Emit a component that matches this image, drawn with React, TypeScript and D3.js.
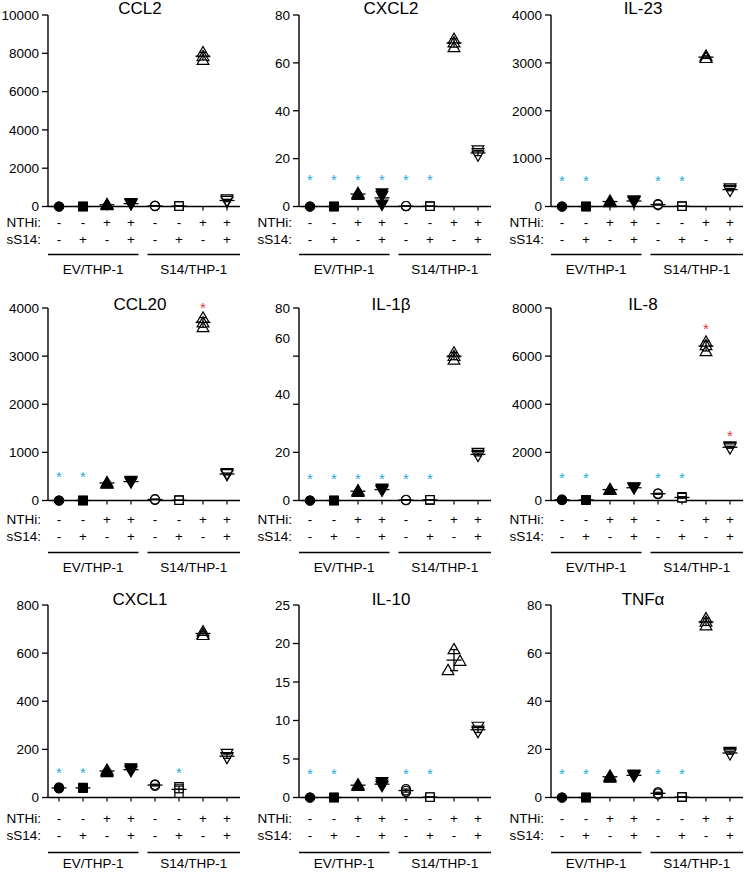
import React from "react";
import * as d3 from "d3";

const titles = ["CCL2", "CXCL2", "IL-23", "CCL20", "IL-1β", "IL-8", "CXCL1", "IL-10", "TNFα"];
const yMax = [10000, 80, 4000, 4000, 80, 8000, 800, 25, 80];
const yStep = [2000, 20, 1000, 1000, 20, 2000, 200, 5, 20];
const nthiRow = ["-", "-", "+", "+", "-", "-", "+", "+"];
const ss14Row = ["-", "+", "-", "+", "-", "+", "-", "+"];
const cellLines = ["EV/THP-1", "S14/THP-1"];

// three replicates per group: 4 EV/THP-1 groups then 4 S14/THP-1 groups
const ccl2 = [[0, 0, 0], [0, 0, 0], [60, 120, 90], [180, 120, 150], [40, 20, 30], [25, 15, 20], [8050, 7850, 7650], [380, 260, 300]];
const cxcl2 = [[0, 0, 0], [0, 0, 0], [5.2, 5.6, 4.8], [5.5, 4.5, 0.8], [0.2, 0.1, 0.2], [0.1, 0.1, 0.1], [70, 68.5, 66.5], [23.5, 22.3, 21.3]];
const il23 = [[0, 0, 0], [0, 0, 0], [120, 90, 100], [130, 100, 115], [50, 30, 40], [5, 5, 5], [3150, 3110, 3100], [380, 350, 330]];
const ccl20 = [[0, 0, 0], [0, 0, 0], [380, 350, 360], [410, 380, 390], [30, 15, 20], [5, 5, 5], [3800, 3700, 3600], [570, 530, 550]];
const il1b = [[0, 0, 0], [0, 0, 0], [4.2, 3.5, 3.9], [5, 4.2, 4.4], [0.3, 0.1, 0.2], [0.3, 0.2, 0.3], [61.5, 60, 58.5], [19.8, 19, 18.6]];
const il8 = [[40, 20, 30], [30, 20, 20], [470, 440, 450], [550, 510, 530], [300, 260, 280], [160, 100, 120], [6600, 6450, 6200], [2250, 2220, 2170]];
const cxcl1 = [[42, 38, 40], [40, 38, 42], [115, 105, 110], [122, 110, 115], [55, 48, 52], [45, 38, 18], [690, 680, 675], [182, 168, 165]];
const il10 = [[0, 0, 0], [0, 0, 0], [1.7, 1.5, 1.6], [2.0, 1.5, 1.7], [1.1, 0.7, 0.9], [0.05, 0.05, 0.05], [19.26, 17.74, 16.53], [9.2, 8.7, 8.5]];
const tnfa = [[0, 0, 0], [0, 0, 0], [9, 8.2, 8.6], [9.6, 8.9, 9.1], [2.2, 1.3, 1.7], [0.2, 0.1, 0.2], [74.5, 73, 71.5], [19, 18.5, 18]];
const replicates = [ccl2, cxcl2, il23, ccl20, il1b, il8, cxcl1, il10, tnfa];

// significance asterisks
const cyanStarGroups = [[], [0, 1, 2, 3, 4, 5], [0, 1, 4, 5], [0, 1], [0, 1, 2, 3, 4, 5], [0, 1, 4, 5], [0, 1, 5], [0, 1, 4, 5], [0, 1, 4, 5]];
const cyanStarLevel = [0, 12.7, 620, 570, 10.8, 1110, 119, 3.6, 11.5];
const redStarGroups = [[], [], [], [6], [], [6, 7], [], [], []];
const redStarLevel = [[], [], [], [4080], [], [7300, 2850], [], [], []];

// layout
const W = 745;
const H = 873;
const colAxisX = [48, 299, 551];
const rowTop = [15, 308, 605];
const rowZero = [206.5, 500.5, 797.5];
const rowTitleY = [13.5, 310, 605];
const rowNthiY = [16, 19, 21];
const rowSs14Y = [33, 36, 38];
const rowLineY = [48, 52, 55];
const rowLabelY = [63, 67, 66];
const FONT = "'Liberation Sans', Arial, Helvetica, sans-serif";
const CYAN = "#29a9e0";
const RED = "#e8343f";
// IL-1β: tick labels 60 and 40 sit above their ticks in the original
const labelNudge: Record<number, Record<number, number>> = { 4: { 60: -18, 40: -10 } };

const symbolTypes = [d3.symbolCircle, d3.symbolSquare, d3.symbolTriangle, d3.symbolTriangle];
const symbolSizes = [64, 68, 60, 60];

function Panel({ i }: { i: number }) {
  const col = i % 3;
  const row = Math.floor(i / 3);
  const ax = colAxisX[col];
  const y0 = rowZero[row];
  const x = d3.scalePoint<number>().domain(d3.range(8)).range([ax + 11, ax + 179]);
  const y = d3.scaleLinear().domain([0, yMax[i]]).range([y0, rowTop[row]]);
  const ticks = d3.range(0, yMax[i] + yStep[i] / 2, yStep[i]);
  const data = replicates[i];
  const fs = 13.5;
  const xEnd = ax + 192;

  return (
    <g fontFamily={FONT}>
      <text x={ax + 92} y={rowTitleY[row]} fontSize={17} textAnchor="middle">{titles[i]}</text>
      {/* axes */}
      <line x1={ax} x2={ax} y1={y0} y2={rowTop[row]} stroke="#000" strokeWidth={1.4} />
      <line x1={ax} x2={xEnd} y1={y0} y2={y0} stroke="#000" strokeWidth={1.4} />
      {ticks.map((t) => (
        <g key={t}>
          <line x1={ax - 6} x2={ax} y1={y(t)} y2={y(t)} stroke="#000" strokeWidth={1.3} />
          <text x={ax - 9} y={y(t) + 4.8 + ((labelNudge[i] || {})[t] || 0)} fontSize={fs} textAnchor="end">{t}</text>
        </g>
      ))}
      {d3.range(8).map((g) => (
        <line key={g} x1={x(g)} x2={x(g)} y1={y0} y2={y0 + 4} stroke="#000" strokeWidth={1.2} />
      ))}
      {/* markers */}
      {data.map((vals, g) => {
        const open = g >= 4;
        const k = g % 4;
        const path = d3.symbol().type(symbolTypes[k]).size(symbolSizes[k])() as string;
        const spread = y(d3.min(vals) as number) - y(d3.max(vals) as number);
        const order = vals.map((v, j) => j).sort((a, b) => vals[b] - vals[a]);
        const dodge = [0, 6, -6];
        return vals.map((v, j) => {
          const dx = spread > 18 ? dodge[order.indexOf(j)] : 0;
          const rot = k === 3 ? " rotate(180)" : "";
          const oy = k === 2 ? 1 : k === 3 ? -1 : 0;
          return (
            <path
              key={`${g}-${j}`}
              d={path}
              transform={`translate(${(x(g) as number) + dx},${y(v) + oy})${rot}`}
              fill={open ? "#fff" : "#000"}
              stroke="#000"
              strokeWidth={1.2}
            />
          );
        });
      })}
      {/* mean ± SD */}
      {data.map((vals, g) => {
        const m = d3.mean(vals) as number;
        const s = d3.deviation(vals) || 0;
        const cx = x(g) as number;
        return (
          <g key={g} stroke="#000" strokeWidth={1.3}>
            <line x1={cx - 7.5} x2={cx + 7.5} y1={y(m)} y2={y(m)} />
            <line x1={cx} x2={cx} y1={y(m - s)} y2={y(m + s)} />
            <line x1={cx - 4} x2={cx + 4} y1={y(m - s)} y2={y(m - s)} />
            <line x1={cx - 4} x2={cx + 4} y1={y(m + s)} y2={y(m + s)} />
          </g>
        );
      })}
      {/* asterisks */}
      {cyanStarGroups[i].map((g) => (
        <text key={`c${g}`} x={x(g)} y={y(cyanStarLevel[i]) + 9} fontSize={15} fill={CYAN} textAnchor="middle">*</text>
      ))}
      {redStarGroups[i].map((g, j) => (
        <text key={`r${g}`} x={x(g)} y={y(redStarLevel[i][j]) + 9} fontSize={15} fill={RED} textAnchor="middle">*</text>
      ))}
      {/* treatment table */}
      <text x={ax - 7} y={y0 + rowNthiY[row] + 4.8} fontSize={fs} textAnchor="end">NTHi:</text>
      <text x={ax - 7} y={y0 + rowSs14Y[row] + 4.8} fontSize={fs} textAnchor="end">sS14:</text>
      {d3.range(8).map((g) => (
        <g key={g}>
          <text x={x(g)} y={y0 + rowNthiY[row] + 4.8} fontSize={fs} textAnchor="middle">{nthiRow[g]}</text>
          <text x={x(g)} y={y0 + rowSs14Y[row] + 4.8} fontSize={fs} textAnchor="middle">{ss14Row[g]}</text>
        </g>
      ))}
      {cellLines.map((name, c) => {
        const x1 = c === 0 ? ax : (x(4) as number) - 7.5;
        const x2 = c === 0 ? (x(3) as number) + 7.5 : xEnd;
        return (
          <g key={name}>
            <line x1={x1} x2={x2} y1={y0 + rowLineY[row]} y2={y0 + rowLineY[row]} stroke="#000" strokeWidth={1.3} />
            <text x={(x1 + x2) / 2} y={y0 + rowLabelY[row] + 4.8} fontSize={fs} textAnchor="middle">{name}</text>
          </g>
        );
      })}
    </g>
  );
}

export default function App() {
  return (
    <svg width={W} height={H} style={{ position: "absolute", left: 0, top: 0, background: "#fff" }}>
      {d3.range(9).map((i) => (
        <Panel key={i} i={i} />
      ))}
    </svg>
  );
}
